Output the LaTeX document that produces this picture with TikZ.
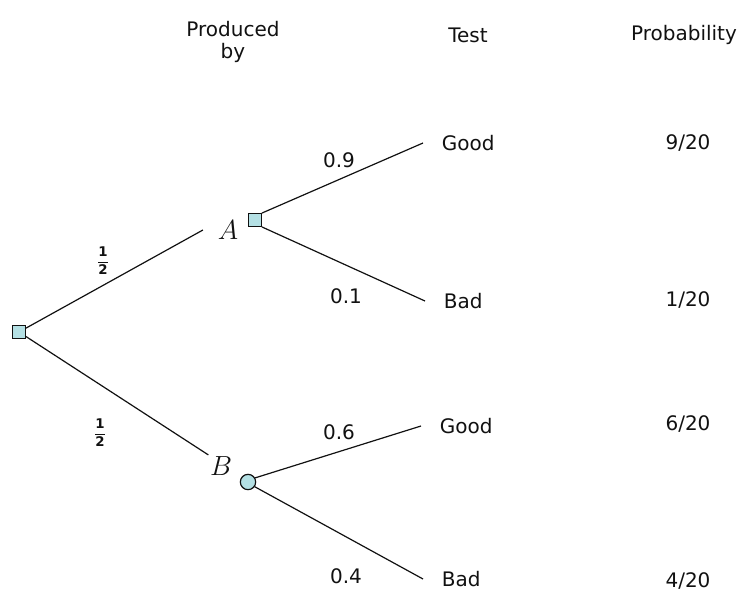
\documentclass[tikz,border=0pt]{standalone}
\usepackage{fontspec}
\setmainfont{DejaVu Sans}
\usetikzlibrary{positioning}
\definecolor{nodefill}{HTML}{B4E0E4}
\definecolor{ink}{HTML}{111111}

\begin{document}
\begin{tikzpicture}[x=0.75pt,y=-0.75pt,
  txt/.style={font=\fontsize{15}{17}\selectfont,text=ink,inner sep=1pt},
  sq/.style={draw=ink,fill=nodefill,minimum size=9.5pt,inner sep=0pt,line width=0.9pt},
  dot/.style={circle,draw=ink,fill=nodefill,minimum size=11.5pt,inner sep=0pt,line width=0.9pt},
  var/.style={font=\fontsize{20}{23}\selectfont,text=ink},
  half/.style={font=\fontsize{10}{12}\selectfont,text=ink,inner sep=0pt},
  branch/.style={draw=ink,line width=0.9pt}]
  \useasboundingbox (0,0) rectangle (743,596);

  % column headers
  \node[txt,align=center] (hdrProd) at (233,42) {Produced\\by};
  \node[txt] (hdrTest) at (468,35) {Test};
  \node[txt] (hdrProb) at (684,35) {Probability};

  % tree nodes
  \node[sq] (root) at (19,332) {};
  \node[sq] (sqA) at (255,220) {};
  \node[dot] (dotB) at (248,482) {};
  \node[var,inner xsep=11pt] (labA) at (228,230) {$A$};
  \node[var,inner sep=1pt] (labB) at (221,466) {$B$};

  % outcomes
  \node[txt,anchor=west,inner xsep=14pt] (goodA) at (423,143) {Good};
  \node[txt,anchor=west,inner xsep=14pt] (badA) at (425,301) {Bad};
  \node[txt,anchor=west,inner xsep=14pt] (goodB) at (421,426) {Good};
  \node[txt,anchor=west,inner xsep=14pt] (badB) at (423,579) {Bad};

  % branches
  \draw[branch] (root) -- (labA.west);
  \draw[branch] (root) -- (labB.north west);
  \draw[branch] (sqA.north east) -- (goodA.west);
  \draw[branch] (sqA.south east) -- (badA.west);
  \draw[branch] (dotB.30) -- (goodB.west);
  \draw[branch] (dotB.-35) -- (badB.west);

  % branch probabilities
  \node[half] (halfA) at (103,261) {$\displaystyle\mathbf{\frac{1}{2}}$};
  \node[half] (halfB) at (100,433) {$\displaystyle\mathbf{\frac{1}{2}}$};
  \node[txt] (pGoodA) at (339,160) {0.9};
  \node[txt] (pBadA) at (346,296) {0.1};
  \node[txt] (pGoodB) at (339,432) {0.6};
  \node[txt] (pBadB) at (346,576) {0.4};

  % joint probabilities
  \node[txt] (jGoodA) at (688,143) {9/20};
  \node[txt] (jBadA) at (688,300) {1/20};
  \node[txt] (jGoodB) at (688,424) {6/20};
  \node[txt] (jBadB) at (688,581) {4/20};
\end{tikzpicture}
\end{document}
